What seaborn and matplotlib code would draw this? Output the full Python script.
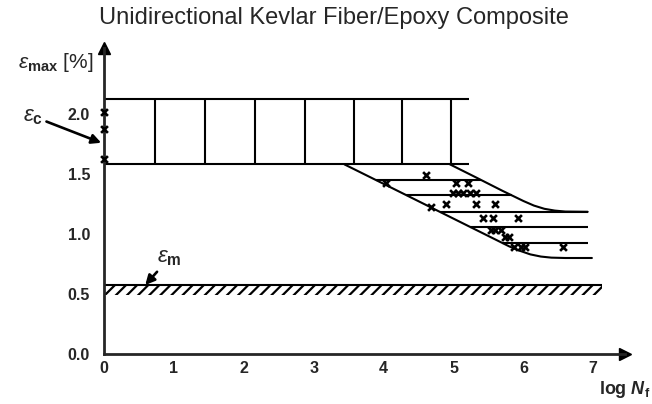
import matplotlib
matplotlib.use("Agg")
import matplotlib.pyplot as plt
import seaborn as sns

# --- data ---
x_ticks = [0, 1, 2, 3, 4, 5, 6, 7]
y_ticks = [0.0, 0.5, 1.0, 1.5, 2.0]

# fibre scatter band (upper rectangle)
band_top = 2.125
band_bottom = 1.58
band_end = 5.22
band_dividers = [0.73, 1.45, 2.16, 2.87, 3.58, 4.26, 4.96]

# matrix fatigue limit band
matrix_top = 0.575
matrix_bottom = 0.49
matrix_end = 7.12

# sloping band limits
lower_x = [3.44, 4.0, 4.5, 5.0, 5.5, 5.8, 5.95, 6.1, 6.25, 6.4, 6.6, 6.98]
lower_y = [1.58, 1.418, 1.273, 1.128, 0.983, 0.896, 0.86, 0.83, 0.812, 0.803, 0.80, 0.80]
upper_x = [4.95, 5.3, 5.7, 6.0, 6.15, 6.3, 6.45, 6.6, 6.92]
upper_y = [1.58, 1.478, 1.36, 1.275, 1.237, 1.21, 1.195, 1.187, 1.185]

# horizontal hatch lines inside the sloping band
hatch_levels = [1.45, 1.325, 1.185, 1.06, 0.925]
hatch_start = [3.89, 4.32, 4.80, 5.23, 5.70]
hatch_end = [5.40, 5.83, 6.92, 6.92, 6.92]

# test points
pts_x = [0, 0, 0, 4.61, 4.03, 5.04, 5.21, 4.99, 5.06, 5.14, 5.23, 5.32,
         4.68, 4.89, 5.32, 5.60, 5.42, 5.56, 5.92, 5.53, 5.60, 5.68,
         5.73, 5.80, 5.87, 5.96, 6.03, 6.57]
pts_y = [2.02, 1.875, 1.625, 1.49, 1.425, 1.425, 1.425, 1.34, 1.34, 1.34, 1.34, 1.34,
         1.225, 1.25, 1.25, 1.25, 1.13, 1.13, 1.13, 1.03, 1.03, 1.03,
         0.975, 0.975, 0.89, 0.89, 0.89, 0.89]

sns.set_style("white")
plt.rcParams["font.family"] = ["Liberation Sans", "DejaVu Sans"]
plt.rcParams["mathtext.fontset"] = "custom"
plt.rcParams["mathtext.rm"] = "Liberation Sans"
plt.rcParams["mathtext.it"] = "Liberation Sans:italic"
plt.rcParams["mathtext.bf"] = "Liberation Sans:bold"
plt.rcParams["mathtext.bfit"] = "Liberation Sans:italic:bold"
plt.rcParams["hatch.linewidth"] = 1.6

fig = plt.figure(figsize=(6.52, 4.04), dpi=100)
ax = fig.add_axes([104 / 652, 50 / 404, 7.45 * 69.9 / 652, 306 / 404])
ax.set_xlim(0, 7.45)
ax.set_ylim(0, 2.55)

lw = 1.5

# upper rectangle band
ax.hlines([band_top, band_bottom], 0, band_end, color="k", lw=lw)
ax.vlines(band_dividers, band_bottom, band_top, color="k", lw=lw)

# sloping band
sns.lineplot(x=lower_x, y=lower_y, ax=ax, color="k", lw=lw, sort=False, estimator=None)
sns.lineplot(x=upper_x, y=upper_y, ax=ax, color="k", lw=lw, sort=False, estimator=None)
ax.hlines(hatch_levels, hatch_start, hatch_end, color="k", lw=lw)

# matrix band
ax.fill_between([0, matrix_end], matrix_bottom, matrix_top, hatch="///",
                facecolor="none", edgecolor="k", linewidth=0)
ax.hlines(matrix_top, 0, matrix_end, color="k", lw=lw)

# data points
sns.scatterplot(x=pts_x, y=pts_y, ax=ax, marker="x", color="k", s=24,
                linewidth=1.9, clip_on=False, zorder=5)

# axes with arrows
sns.despine(ax=ax)
for s in ["left", "bottom"]:
    ax.spines[s].set_linewidth(2.0)
ax.plot(1, 0, ">k", ms=9, transform=ax.transAxes, clip_on=False)
ax.plot(0, 1, "^k", ms=9, transform=ax.transAxes, clip_on=False)

ax.set_xticks(x_ticks)
ax.set_yticks(y_ticks)
ax.set_xticklabels([str(t) for t in x_ticks])
ax.set_yticklabels([f"{t:.1f}" for t in y_ticks])
ax.tick_params(axis="both", direction="in", length=7, width=1.8, labelsize=11.5)
ax.tick_params(axis="x", pad=5)
ax.tick_params(axis="y", pad=10)
for lab in ax.get_xticklabels() + ax.get_yticklabels():
    lab.set_fontweight("bold")

# labels
ax.text(-0.15, 2.425, r"$\varepsilon_{\mathbf{max}}$ [%]", fontsize=15,
        ha="right", va="center", clip_on=False)
ax.text(7.08, -0.30, r"$\mathbf{log}\ \mathbfit{N}_{\mathbf{f}}$", fontsize=13,
        ha="left", va="center", clip_on=False)

arrow = dict(arrowstyle="-|>", color="k", lw=1.9, mutation_scale=14, shrinkA=0, shrinkB=0)
ax.annotate(r"$\varepsilon_{\mathbf{c}}$", xy=(-0.04, 1.76), xytext=(-0.87, 1.98),
            fontsize=16, ha="right", va="center", arrowprops=arrow, annotation_clip=False)
ax.annotate(r"$\varepsilon_{\mathbf{m}}$", xy=(0.59, 0.575), xytext=(0.76, 0.80),
            fontsize=16, ha="left", va="center", arrowprops=arrow, annotation_clip=False)

fig.text(0.512, 0.955, "Unidirectional Kevlar Fiber/Epoxy Composite",
         fontsize=17, ha="center", va="center")

fig.savefig("out.png", dpi=100)
